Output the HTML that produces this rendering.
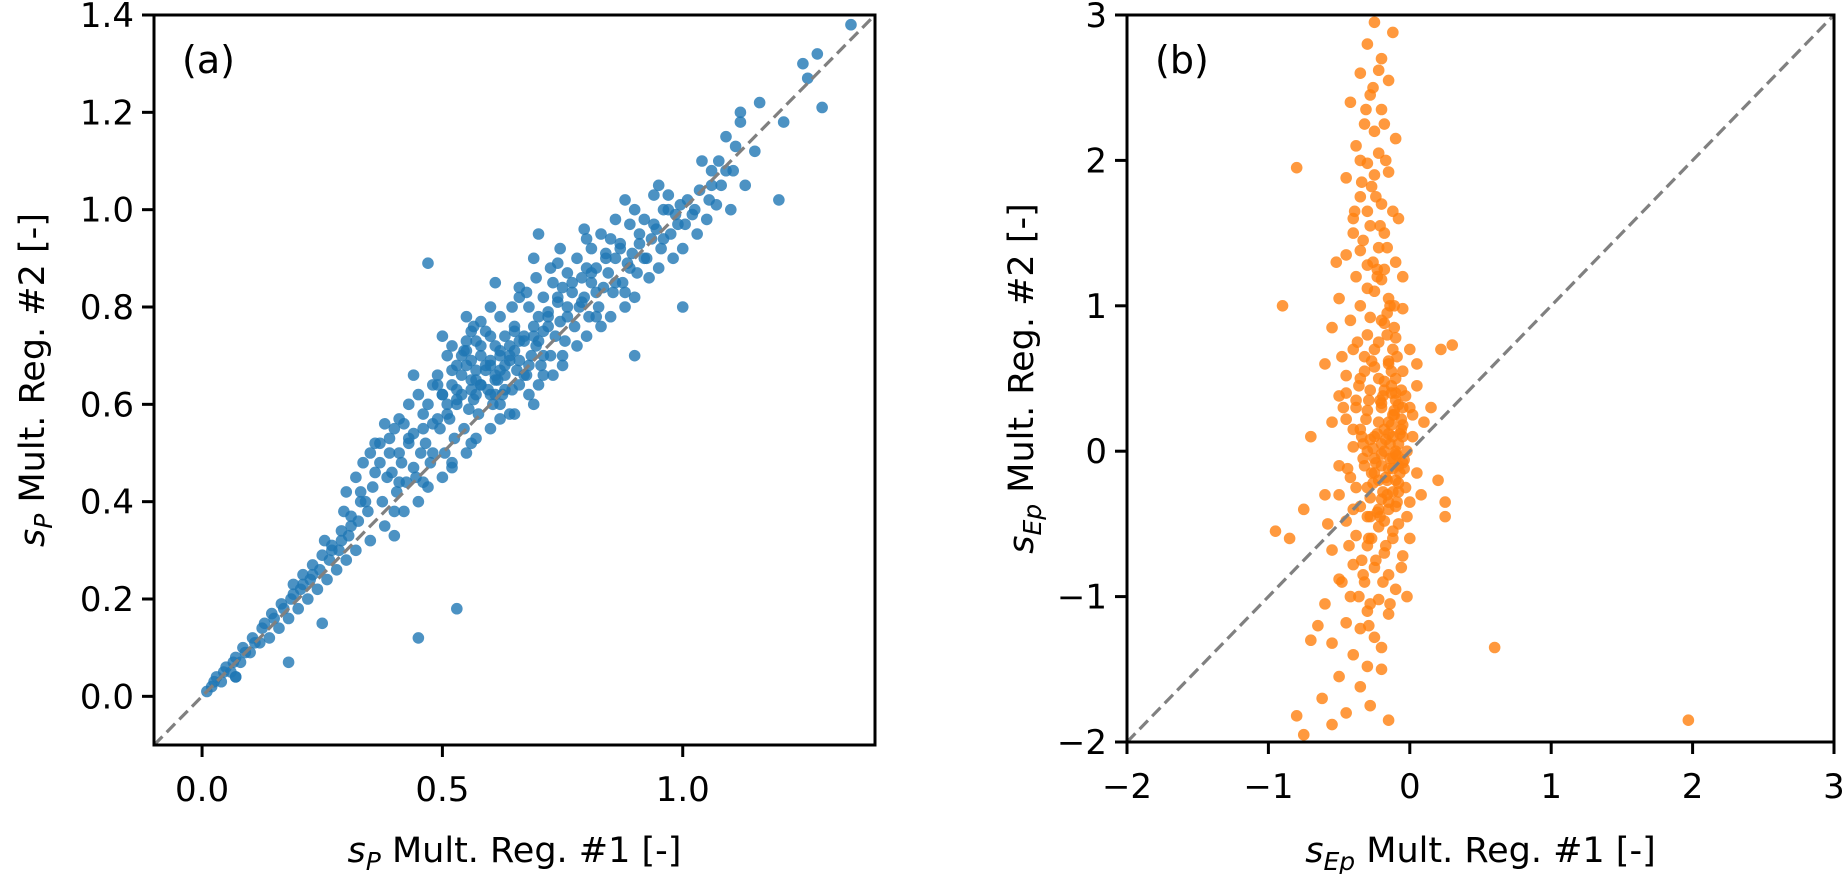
<!DOCTYPE html>
<html><head><meta charset="utf-8"><style>
html,body{margin:0;padding:0;background:#fff;}
svg{display:block;font-family:"DejaVu Sans","Liberation Sans",sans-serif;}
</style></head><body>
<svg id="chart" width="1845" height="874" viewBox="0 0 1845 874"></svg>
<script>
// Panel (a) data: s_P Mult. Reg. #1 vs #2
const aX = [0.01,0.02,0.025,0.04,0.045,0.06,0.065,0.07,0.08,0.085,0.1,0.105,0.12,0.125,0.14,0.145,0.16,0.165,0.18,0.185,0.19,0.2,0.205,0.21,0.22,0.225,0.23,0.24,0.245,0.25,0.255,0.26,0.265,0.27,0.28,0.285,0.29,0.295,
0.3,0.305,0.31,0.3,0.32,0.325,0.33,0.32,0.335,0.35,0.345,0.355,0.35,0.36,0.38,0.375,0.385,0.37,0.39,0.38,0.4,0.405,0.395,0.41,0.4,0.41,
0.42,0.425,0.415,0.43,0.42,0.43,0.45,0.445,0.455,0.44,0.46,0.45,0.44,0.47,0.475,0.465,0.48,0.47,0.48,0.47,0.5,0.505,0.495,0.51,0.5,0.49,0.51,0.5,
0.52,0.525,0.515,0.53,0.52,0.53,0.52,0.55,0.545,0.555,0.54,0.56,0.55,0.545,0.56,0.55,0.57,0.575,0.565,0.58,0.57,0.58,0.57,0.565,
0.6,0.605,0.595,0.61,0.6,0.61,0.59,0.6,0.61,0.62,0.625,0.615,0.63,0.62,0.63,0.62,0.65,0.645,0.655,0.64,0.66,0.65,0.645,0.66,
0.68,0.675,0.685,0.67,0.69,0.68,0.675,0.69,0.7,0.705,0.695,0.71,0.7,0.71,0.695,0.7,0.73,0.725,0.735,0.72,0.74,0.73,0.725,
0.75,0.755,0.745,0.76,0.75,0.76,0.745,0.78,0.775,0.785,0.77,0.79,0.78,0.8,0.805,0.795,0.81,0.8,0.81,0.795,0.83,0.825,0.835,0.82,0.84,0.83,
0.85,0.855,0.845,0.86,0.85,0.86,0.88,0.875,0.885,0.87,0.89,0.88,0.9,0.905,0.895,0.91,0.9,0.9,0.93,0.925,0.935,0.92,0.94,0.95,0.955,0.945,0.96,0.95,
0.98,0.975,0.985,0.97,1.0,1.005,0.995,1.0,1.03,1.025,1.035,1.04,1.05,1.055,1.06,1.08,1.075,1.09,1.1,1.105,1.11,1.12,1.13,1.12,1.15,1.16,1.2,1.21,1.25,1.26,1.29,1.28,1.35,
0.53,0.45,0.18,0.25,0.07,
0.51,0.53,0.54,0.56,0.58,0.59,0.61,0.62,0.63,0.64,0.66,0.67,0.52,0.55,0.57,0.6,0.62,0.65,0.68,0.49,0.53,0.56,0.59,0.61,0.64,0.66,0.7,0.72,0.5,0.54,0.58,0.6,0.63,0.67,0.69,0.71,0.55,0.57,0.6,0.62,0.65,
0.33,0.36,0.39,0.41,0.43,0.44,0.46,0.48,0.49,0.37,0.34,0.31,0.29,0.27,0.23,0.21,0.19,0.17,0.15,0.13,0.11,0.09,0.07,0.05,0.03,
0.72,0.74,0.76,0.77,0.79,0.81,0.82,0.84,0.86,0.87,0.89,0.91,0.92,0.94,0.96,0.97,0.99,1.01,1.02,1.06,1.07,1.09,
0.58,0.66,0.74,0.8,0.69,0.75,0.82,0.88,0.56,0.64,0.71,0.4,0.46,0.52];
const aY = [0.01,0.02,0.03,0.03,0.05,0.05,0.07,0.04,0.07,0.1,0.09,0.12,0.11,0.14,0.12,0.17,0.14,0.19,0.16,0.2,0.23,0.18,0.22,0.25,0.2,0.24,0.27,0.22,0.26,0.29,0.32,0.24,0.28,0.31,0.26,0.3,0.34,0.38,
0.28,0.33,0.37,0.42,0.3,0.36,0.4,0.45,0.48,0.32,0.38,0.43,0.5,0.52,0.35,0.4,0.45,0.48,0.53,0.56,0.33,0.42,0.46,0.5,0.55,0.57,
0.38,0.44,0.48,0.52,0.56,0.6,0.4,0.45,0.5,0.54,0.58,0.62,0.66,0.43,0.48,0.52,0.56,0.6,0.64,0.89,0.45,0.5,0.55,0.58,0.62,0.66,0.7,0.74,
0.48,0.53,0.57,0.61,0.64,0.68,0.72,0.5,0.55,0.59,0.62,0.65,0.68,0.71,0.75,0.78,0.53,0.58,0.61,0.64,0.67,0.7,0.73,0.76,
0.55,0.6,0.63,0.66,0.69,0.72,0.75,0.8,0.85,0.57,0.62,0.65,0.68,0.71,0.74,0.78,0.58,0.63,0.67,0.7,0.73,0.76,0.8,0.84,
0.62,0.66,0.7,0.73,0.76,0.8,0.83,0.9,0.64,0.68,0.72,0.75,0.78,0.82,0.86,0.95,0.66,0.7,0.74,0.78,0.81,0.85,0.88,
0.68,0.73,0.77,0.8,0.84,0.87,0.92,0.72,0.76,0.8,0.83,0.86,0.9,0.74,0.78,0.82,0.85,0.88,0.92,0.96,0.76,0.8,0.84,0.88,0.91,0.95,
0.78,0.83,0.87,0.9,0.94,0.98,0.8,0.85,0.89,0.93,0.97,1.02,0.82,0.87,0.91,0.95,1.0,0.7,0.86,0.9,0.94,0.98,1.03,0.88,0.92,0.96,1.0,1.05,
0.9,0.95,0.99,1.03,0.92,0.97,1.01,0.8,0.95,1.0,1.04,1.1,0.98,1.02,1.08,1.05,1.1,1.15,1.0,1.08,1.13,1.18,1.05,1.2,1.12,1.22,1.02,1.18,1.3,1.27,1.21,1.32,1.38,
0.18,0.12,0.07,0.15,0.04,
0.6,0.63,0.66,0.69,0.64,0.68,0.62,0.7,0.66,0.72,0.69,0.74,0.67,0.71,0.65,0.62,0.67,0.71,0.68,0.57,0.6,0.63,0.67,0.65,0.69,0.64,0.73,0.76,0.62,0.7,0.72,0.68,0.63,0.66,0.74,0.7,0.73,0.62,0.74,0.6,0.75,
0.42,0.46,0.5,0.44,0.53,0.47,0.55,0.5,0.64,0.52,0.4,0.35,0.32,0.3,0.25,0.23,0.21,0.18,0.16,0.15,0.11,0.09,0.08,0.06,0.04,
0.79,0.82,0.78,0.85,0.81,0.87,0.83,0.9,0.85,0.92,0.88,0.93,0.9,0.97,0.94,1.0,0.97,1.02,0.99,1.05,1.01,1.08,
0.77,0.82,0.89,0.94,0.6,0.7,0.78,0.83,0.52,0.58,0.66,0.38,0.44,0.47];

// Panel (b) data: s_Ep Mult. Reg. #1 vs #2
const bX = [-0.25,-0.12,-0.3,-0.2,-0.35,-0.15,-0.28,-0.42,-0.2,-0.32,-0.25,-0.1,-0.38,-0.22,-0.3,-0.15,-0.45,-0.27,-0.35,-0.2,-0.12,-0.4,-0.28,-0.18,-0.33,-0.22,-0.45,-0.1,-0.3,-0.38,-0.2,-0.25,-0.5,-0.15,-0.35,-0.05,-0.28,-0.42,-0.18,-0.55,-0.3,-0.1,-0.22,-0.4,0.0,-0.32,-0.15,-0.6,-0.25,-0.05,-0.45,-0.35,-0.18,0.05,-0.28,-0.1,-0.5,-0.38,-0.2,0.0,-0.3,-0.12,-0.45,-0.22,-0.05,-0.35,-0.15,0.02,-0.28,-0.08,-0.4,-0.18,-0.1,-0.25,-0.05,-0.32,-0.15,0.05,-0.42,-0.22,-0.08,-0.3,-0.12,-0.5,-0.2,0.0,-0.35,-0.15,-0.28,-0.45,-0.08,-0.22,-0.38,-0.12,-0.3,-0.55,-0.18,-0.05,-0.4,-0.25,-0.15,-0.5,-0.32,-0.1,-0.42,-0.22,-0.6,-0.3,-0.15,-0.45,-0.35,-0.25,-0.55,-0.4,-0.3,-0.2,-0.5,-0.35,-0.62,-0.28,-0.45,-0.8,-0.15,-0.55,-0.75,
-0.1,-0.12,-0.08,-0.15,-0.05,-0.2,-0.1,-0.18,-0.02,-0.12,-0.06,-0.25,-0.16,-0.03,-0.2,-0.1,-0.3,-0.27,-0.13,-0.22,
-0.55,-0.5,-0.6,-0.45,0.08,0.1,-0.48,0.05,-0.58,0.0,-0.52,-0.05,-0.48,-0.02,-0.4,-0.08,-0.3,-0.35,-0.18,-0.25,
-0.14,-0.2,-0.07,-0.17,-0.11,-0.24,-0.04,-0.19,-0.09,-0.13,-0.21,-0.06,-0.33,-0.26,-0.16,-0.38,-0.29,-0.11,-0.23,-0.34,
1.97,0.6,-0.8,-0.95,-0.9,0.3,0.22,0.25,0.25,0.15,0.2,-0.75,-0.85,-0.7,-0.65,-0.7,
-0.14,-0.09,-0.17,-0.12,-0.06,-0.2,-0.11,-0.16,-0.04,-0.23,-0.08,-0.19,-0.13,-0.26,-0.1,-0.22,-0.07,-0.28,-0.15,-0.31,-0.18,-0.03,-0.25,-0.12,-0.33,-0.2,-0.27,-0.14,-0.36,-0.24,-0.09,-0.3,-0.19,-0.26,-0.38,-0.16,-0.33,-0.21,-0.28,-0.24,-0.34,-0.18,-0.4,-0.02,-0.44,0.02,-0.47,-0.29,-0.17,-0.32,-0.11,-0.23,-0.37,-0.06,-0.29,-0.2,-0.36,-0.43,-0.14,-0.26,-0.31,-0.22,-0.17,-0.39,-0.23,-0.35,-0.1,-0.05,-0.15,-0.08,-0.21,-0.13,-0.25,-0.18,-0.3,-0.12,-0.34,-0.27,-0.4,-0.16];
const bY = [2.95,2.88,2.8,2.7,2.6,2.55,2.45,2.4,2.35,2.25,2.2,2.15,2.1,2.05,1.98,1.92,1.88,1.82,1.75,1.7,1.65,1.6,1.55,1.5,1.45,1.4,1.35,1.3,1.28,1.2,1.18,1.1,1.05,1.05,1.0,0.98,0.92,0.9,0.88,0.85,0.8,0.78,0.75,0.7,0.7,0.65,0.62,0.6,0.58,0.55,0.52,0.5,0.48,0.45,0.42,0.4,0.38,0.35,0.33,0.3,0.28,0.25,0.22,0.2,0.18,0.15,0.12,0.1,0.08,0.05,0.03,0.0,-0.02,-0.05,-0.08,-0.1,-0.12,-0.15,-0.18,-0.2,-0.22,-0.25,-0.28,-0.3,-0.33,-0.35,-0.38,-0.4,-0.45,-0.48,-0.5,-0.52,-0.58,-0.6,-0.65,-0.68,-0.7,-0.72,-0.78,-0.8,-0.85,-0.88,-0.9,-0.95,-1.0,-1.02,-1.05,-1.1,-1.12,-1.18,-1.22,-1.28,-1.32,-1.4,-1.48,-1.5,-1.55,-1.62,-1.7,-1.75,-1.8,-1.82,-1.85,-1.88,-1.95,
0.0,0.1,-0.1,0.2,0.1,-0.1,-0.2,0.15,0.0,-0.05,0.22,0.1,-0.3,-0.25,0.3,0.35,0.0,-0.15,0.45,-0.4,
0.2,-0.1,-0.3,0.4,-0.3,0.2,0.65,0.6,-0.5,-0.6,1.3,1.2,-0.9,-1.0,1.5,1.6,1.65,2.0,2.25,1.9,
-0.05,0.05,0.12,-0.18,0.28,-0.08,-0.12,0.38,-0.35,0.55,-0.45,0.42,0.05,-0.22,0.8,0.3,-0.6,1.0,1.25,-0.75,
-1.85,-1.35,1.95,-0.55,1.0,0.73,0.7,-0.35,-0.45,0.3,-0.2,-0.4,-0.6,0.1,-1.2,-1.3,
0.05,-0.03,0.08,-0.12,0.15,-0.02,0.25,-0.2,-0.06,0.12,0.32,-0.28,0.4,0.02,-0.38,0.5,-0.15,-0.32,0.6,0.22,-0.48,0.38,0.7,-0.55,-0.05,0.9,-0.6,1.0,0.45,-0.75,0.65,1.12,-0.9,1.3,-0.25,1.4,-0.85,1.55,-1.05,1.75,1.85,1.25,0.15,-0.45,-0.12,0.25,0.3,0.35,-0.65,0.55,0.85,-0.42,0.75,-0.8,-1.2,-1.35,-1.0,-0.65,-1.05,2.5,2.35,2.62,2.0,1.65,1.2,1.38,0.5,0.3,-0.35,-0.28,0.35,0.18,-0.15,0.42,-0.45,0.7,0.1,0.62,-0.4,0.95];

const aTicksX = [0.0,0.5,1.0], aTicksXLbl = ["0.0","0.5","1.0"];
const aTicksY = [0.0,0.2,0.4,0.6,0.8,1.0,1.2,1.4], aTicksYLbl = ["0.0","0.2","0.4","0.6","0.8","1.0","1.2","1.4"];
const bTicks = [-2,-1,0,1,2,3], bTicksLbl = ["\u22122","\u22121","0","1","2","3"];

const NS = "http://www.w3.org/2000/svg";
const svg = document.getElementById('chart');
function mk(tag, attrs, parent){ const e=document.createElementNS(NS,tag); for(const k in attrs) e.setAttribute(k,attrs[k]); (parent||svg).appendChild(e); return e; }

function panel(cfg){
  const g = mk('g',{});
  
  
  const sx = v => cfg.L + (v-cfg.x0)/(cfg.x1-cfg.x0)*(cfg.R-cfg.L);
  const sy = v => cfg.B - (v-cfg.y0)/(cfg.y1-cfg.y0)*(cfg.B-cfg.T);
  const pts = mk('g',{fill:cfg.color,'fill-opacity':0.8},g);
  
  
  for(let i=0;i<cfg.xs.length;i++){
    const c = mk('circle',{cx:sx(cfg.xs[i]),cy:sy(cfg.ys[i]),r:5.8},pts);
    
    
  }
  const lo=Math.max(cfg.x0,cfg.y0), hi=Math.min(cfg.x1,cfg.y1);
  const dl = mk('line',{x1:sx(lo),y1:sy(lo),x2:sx(hi),y2:sy(hi),stroke:'#808080','stroke-width':3.2,'stroke-dasharray':'12,6'},g);
  
  
  const fr = mk('rect',{x:cfg.L,y:cfg.T,width:cfg.R-cfg.L,height:cfg.B-cfg.T,fill:'none',stroke:'#000','stroke-width':3},g);
  
  
  cfg.tx.forEach((v,i)=>{
    const x=sx(v);
    const t=mk('line',{x1:x,y1:cfg.B,x2:x,y2:cfg.B+12,stroke:'#000','stroke-width':3},g);
    
    
    const l=mk('text',{x:x,y:cfg.B+56,'font-size':34,'text-anchor':'middle'},g);
    l.textContent=cfg.txl[i];
    
    
  });
  cfg.ty.forEach((v,i)=>{
    const y=sy(v);
    const t=mk('line',{x1:cfg.L-12,y1:y,x2:cfg.L,y2:y,stroke:'#000','stroke-width':3},g);
    
    
    const l=mk('text',{x:cfg.L-20,y:y+12,'font-size':34,'text-anchor':'end'},g);
    l.textContent=cfg.tyl[i];
    
    
  });
  const pl=mk('text',{x:cfg.L+28,y:cfg.T+58,'font-size':38},g);
  pl.textContent=cfg.label;
  
  
  const cx=(cfg.L+cfg.R)/2, cy=(cfg.T+cfg.B)/2;
  const xl=mk('text',{x:cx,y:862,'font-size':35,'text-anchor':'middle'},g);
  xl.innerHTML='<tspan font-style="italic">s</tspan><tspan font-style="italic" font-size="25" dy="8">'+cfg.sub+'</tspan><tspan dy="-8"> Mult. Reg. #1 [-]</tspan>';
  
  
  const yl=mk('text',{x:0,y:0,'font-size':35,'text-anchor':'middle',transform:`translate(${cfg.ylx},${cy}) rotate(-90)`},g);
  yl.innerHTML='<tspan font-style="italic">s</tspan><tspan font-style="italic" font-size="25" dy="8">'+cfg.sub+'</tspan><tspan dy="-8"> Mult. Reg. #2 [-]</tspan>';
  
  
}

panel({name:'panel-a',L:154,R:875,T:15,B:745,x0:-0.1,x1:1.4,y0:-0.1,y1:1.4,xs:aX,ys:aY,color:'#1f77b4',
  tx:aTicksX,txl:aTicksXLbl,ty:aTicksY,tyl:aTicksYLbl,label:'(a)',sub:'P',ylx:44});
panel({name:'panel-b',L:1127,R:1834,T:15,B:742,x0:-2,x1:3,y0:-2,y1:3,xs:bX,ys:bY,color:'#ff7f0e',
  tx:bTicks,txl:bTicksLbl,ty:bTicks,tyl:bTicksLbl,label:'(b)',sub:'Ep',ylx:1033});
</script>
</body></html>
